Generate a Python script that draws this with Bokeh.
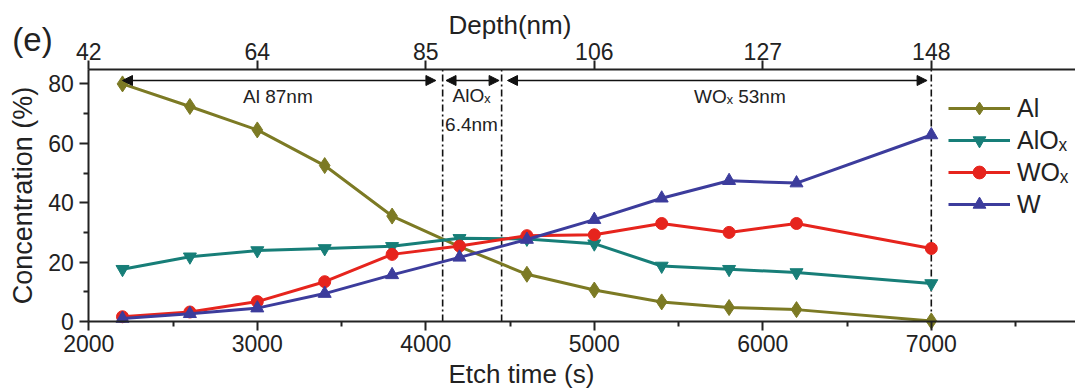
import math
from bokeh.plotting import figure
from bokeh.models import (LinearAxis, FixedTicker, Range1d, Arrow, NormalHead,
                          Label, Legend)
from bokeh.embed import file_html
from bokeh.resources import INLINE

# ---- data ----
etch_time = [2200, 2600, 3000, 3400, 3800, 4200, 4600, 5000, 5400, 5800, 6200, 7000]
al = [80.0, 72.4, 64.5, 52.5, 35.5, 25.2, 15.9, 10.6, 6.6, 4.7, 4.0, 0.2]
alox = [17.6, 21.8, 23.9, 24.6, 25.3, 28.0, 27.8, 26.2, 18.7, 17.6, 16.5, 12.8]
wox = [1.6, 3.2, 6.7, 13.4, 22.6, 25.4, 28.9, 29.2, 33.0, 30.0, 33.0, 24.6]
w = [1.0, 2.6, 4.5, 9.4, 15.7, 21.6, 27.6, 34.3, 41.5, 47.4, 46.6, 62.8]

x_ticks = [2000, 3000, 4000, 5000, 6000, 7000]
x_minor = [2500, 3500, 4500, 5500, 6500, 7500]
depth_labels = ["42", "64", "85", "106", "127", "148"]
y_ticks = [0, 20, 40, 60, 80]
y_minor = [10, 30, 50, 70]

layer_bounds = [4100, 4450, 7000]

FONT = "Liberation Sans"
TXT = "#222222"
COL_AL = "#7c7a24"
COL_ALOX = "#177e78"
COL_WOX = "#e6241d"
COL_W = "#3c3c9c"

# ---- layout geometry (pixels) ----
W_PX, H_PX = 1075, 390
AX_LEFT_PX = 88.3      # pixel column of t = 2000 s
PX_PER_S = 0.1685      # pixels per second
AX_BOTTOM_PX = 321.0   # pixel row of 0 %
PX_PER_PCT = 2.97      # pixels per percent
AX_TOP_PX = 69.0


def xd(px):
    return 2000 + (px - AX_LEFT_PX) / PX_PER_S


def yd(py):
    return (AX_BOTTOM_PX - py) / PX_PER_PCT


X_END = xd(W_PX)
Y_TOP = yd(AX_TOP_PX)

p = figure(width=W_PX, height=H_PX, output_backend="svg", toolbar_location=None,
           x_range=Range1d(xd(0), X_END), y_range=Range1d(yd(H_PX), yd(0)),
           min_border=0, min_border_left=0, min_border_right=0,
           min_border_top=0, min_border_bottom=0)
p.outline_line_color = None
p.xgrid.visible = False
p.ygrid.visible = False
p.background_fill_color = "white"
p.border_fill_color = "white"


def style_axis(ax, minor=True):
    ax.axis_line_width = 2
    ax.axis_line_color = TXT
    ax.major_tick_line_width = 2
    ax.major_tick_line_color = TXT
    ax.major_tick_out = 9
    ax.major_tick_in = 0
    ax.minor_tick_line_width = 2
    ax.minor_tick_line_color = TXT if minor else None
    ax.minor_tick_out = 5
    ax.minor_tick_in = 0
    ax.major_label_text_font = FONT
    ax.major_label_text_font_size = "23px"
    ax.major_label_text_color = TXT


xa = p.xaxis[0]
xa.ticker = FixedTicker(ticks=x_ticks, minor_ticks=x_minor)
style_axis(xa)
xa.major_label_standoff = 4
xa.fixed_location = 0
xa.bounds = (2000, X_END)

ya = p.yaxis[0]
ya.ticker = FixedTicker(ticks=y_ticks, minor_ticks=y_minor)
style_axis(ya)
ya.major_label_standoff = 6
ya.fixed_location = 2000
ya.bounds = (0, Y_TOP)
ya.axis_label = "Concentration (%)"
ya.axis_label_text_font = FONT
ya.axis_label_text_font_size = "27px"
ya.axis_label_text_font_style = "normal"
ya.axis_label_text_color = TXT
ya.axis_label_standoff = 7

top = LinearAxis(ticker=FixedTicker(ticks=x_ticks),
                 major_label_overrides={t: s for t, s in zip(x_ticks, depth_labels)})
style_axis(top, minor=False)
top.major_label_standoff = 1
top.fixed_location = Y_TOP
top.bounds = (2000, X_END)
p.add_layout(top, "above")

# layer boundary lines
p.segment(x0=layer_bounds, y0=[0] * len(layer_bounds), x1=layer_bounds,
          y1=[Y_TOP] * len(layer_bounds), line_color="#111111", line_width=1.6,
          line_dash="7 3 2 3")

# series
series = [
    ("Al", al, COL_AL, "diamond", 16),
    ("AlOₓ", alox, COL_ALOX, "inverted_triangle", 13),
    ("WOₓ", wox, COL_WOX, "circle", 12),
    ("W", w, COL_W, "triangle", 13),
]
legend_items = []
for name, vals, col, mk, sz in series:
    r1 = p.line(etch_time, vals, line_color=col, line_width=3)
    r2 = p.scatter(etch_time, vals, marker=mk, size=sz, fill_color=col, line_color=col)
    legend_items.append((name, [r1, r2]))

ITEM_H = 32
legend = Legend(items=legend_items, location=(948, H_PX - 92 - 4 * ITEM_H))
legend.label_text_font = FONT
legend.label_text_font_size = "25px"
legend.label_text_color = TXT
legend.glyph_width = 62
legend.glyph_height = ITEM_H
legend.label_height = ITEM_H
legend.spacing = 0
legend.padding = 0
legend.margin = 0
legend.label_standoff = 7
legend.border_line_color = None
legend.background_fill_alpha = 0
p.add_layout(legend, "center")

# thickness arrows
arrow_y = yd(80)
for xs, xe in [(2200, 4060), (4120, 4435), (4485, 6975)]:
    p.add_layout(Arrow(x_start=xs, y_start=arrow_y, x_end=xe, y_end=arrow_y,
                       line_width=1.5, line_color="#111111",
                       start=NormalHead(size=10, fill_color="#111111", line_color="#111111"),
                       end=NormalHead(size=10, fill_color="#111111", line_color="#111111")))


def add_label(px, py, text, size, align="center"):
    p.add_layout(Label(x=xd(px), y=yd(py), text=text, text_font=FONT, text_font_size=size,
                       text_color=TXT, text_align=align, text_baseline="middle"))


add_label(280, 96, "Al  87nm", "19px")
add_label(471, 95, "AlOₓ", "19px")
add_label(471, 124, "6.4nm", "19px")
add_label(742, 96, "WOₓ  53nm", "19px")

# titles and panel label
add_label(448, 24, "Depth(nm)", "26px", align="left")
add_label(448, 373, "Etch time (s)", "26px", align="left")
add_label(32, 39, "(e)", "33px")

open("out.html", "w").write(file_html(p, INLINE))
